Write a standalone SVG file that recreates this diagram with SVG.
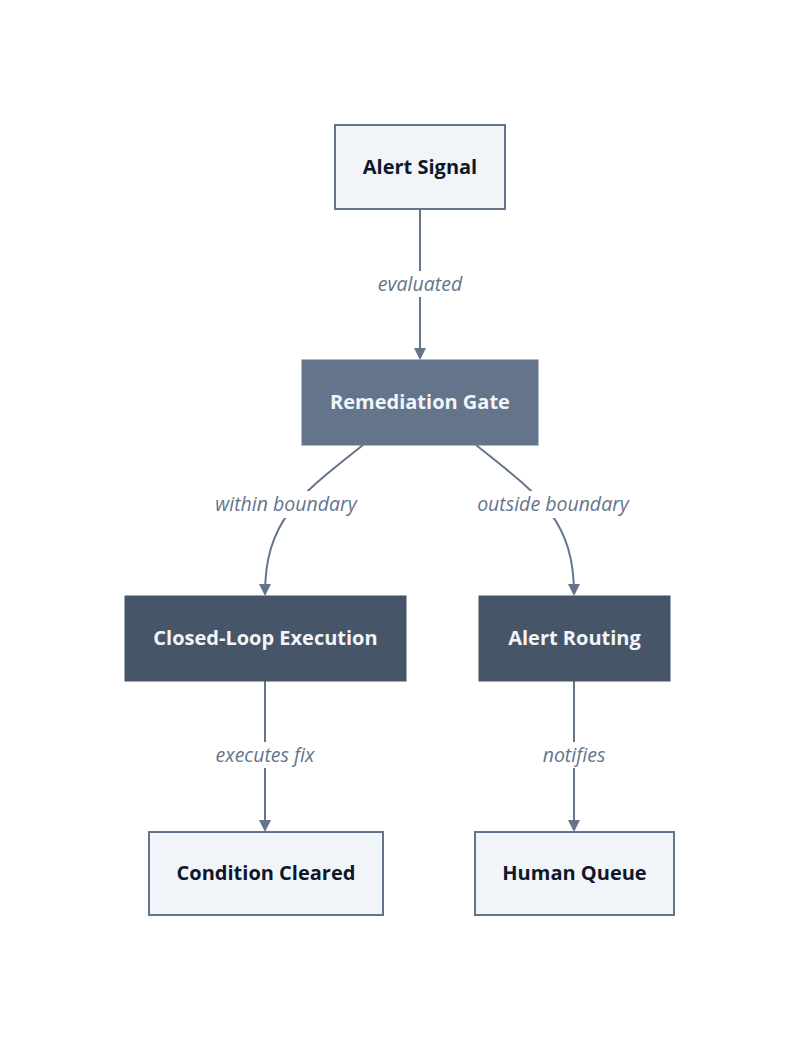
<svg xmlns="http://www.w3.org/2000/svg" width="800" height="1042" viewBox="0 0 800 1042">
<style>
.light{fill:#f1f5f9;stroke:#64748b;stroke-width:2}
.mid{fill:#64748b;stroke:#64748b;stroke-width:1}
.dark{fill:#475569;stroke:#475569;stroke-width:1}
.t{font-family:"Open Sans",sans-serif;font-weight:700;font-size:20px;text-anchor:middle;dominant-baseline:central}
.td{fill:#0f172a}
.tw{fill:#f1f5f9}
.edge{fill:none;stroke:#64748b;stroke-width:2}
.lbl{font-family:"Open Sans",sans-serif;font-style:italic;font-size:19.5px;fill:#64748b;text-anchor:middle;dominant-baseline:central}
.lblbg{fill:#ffffff}
</style>
<defs>
<marker id="arr" markerWidth="12" markerHeight="12" refX="10" refY="6" orient="auto" markerUnits="userSpaceOnUse">
<path d="M0,0 L12,6 L0,12 z" fill="#64748b"/>
</marker>
</defs>
<rect width="800" height="1042" fill="#ffffff"/>
<g id="connectors">
<path class="edge" d="M420,209 L420,358" marker-end="url(#arr)"/>
<path class="edge" d="M363,445 C300,495 265,520 265,594" marker-end="url(#arr)"/>
<path class="edge" d="M476,445 C539,495 574,520 574,594" marker-end="url(#arr)"/>
<path class="edge" d="M265,681 L265,830" marker-end="url(#arr)"/>
<path class="edge" d="M574,681 L574,830" marker-end="url(#arr)"/>
<rect class="lblbg" x="370" y="271" width="100" height="26"/>
<text class="lbl" x="420" y="283.5">evaluated</text>
<rect class="lblbg" x="210" y="491" width="152" height="27"/>
<text class="lbl" x="286" y="503.5">within boundary</text>
<rect class="lblbg" x="472" y="491" width="163" height="27"/>
<text class="lbl" x="553" y="503.5">outside boundary</text>
<rect class="lblbg" x="212" y="742" width="107" height="26"/>
<text class="lbl" x="265" y="754.5">executes fix</text>
<rect class="lblbg" x="538" y="742" width="72" height="26"/>
<text class="lbl" x="574" y="754.5">notifies</text>
</g>
<g id="alert-signal">
<rect class="light" x="335" y="125" width="170" height="84"/>
<text class="t td" x="420" y="166">Alert Signal</text>
</g>
<g id="remediation-gate">
<rect class="mid" x="302" y="360" width="236" height="85"/>
<text class="t tw" x="420" y="401.5">Remediation Gate</text>
</g>
<g id="closed-loop-execution">
<rect class="dark" x="125" y="596" width="281" height="85"/>
<text class="t tw" x="265.5" y="637.5">Closed-Loop Execution</text>
</g>
<g id="alert-routing">
<rect class="dark" x="479" y="596" width="191" height="85"/>
<text class="t tw" x="574.5" y="637.5">Alert Routing</text>
</g>
<g id="condition-cleared">
<rect class="light" x="149" y="832" width="234" height="83"/>
<text class="t td" x="266" y="872.5">Condition Cleared</text>
</g>
<g id="human-queue">
<rect class="light" x="475" y="832" width="199" height="83"/>
<text class="t td" x="574.5" y="872.5">Human Queue</text>
</g>
</svg>
